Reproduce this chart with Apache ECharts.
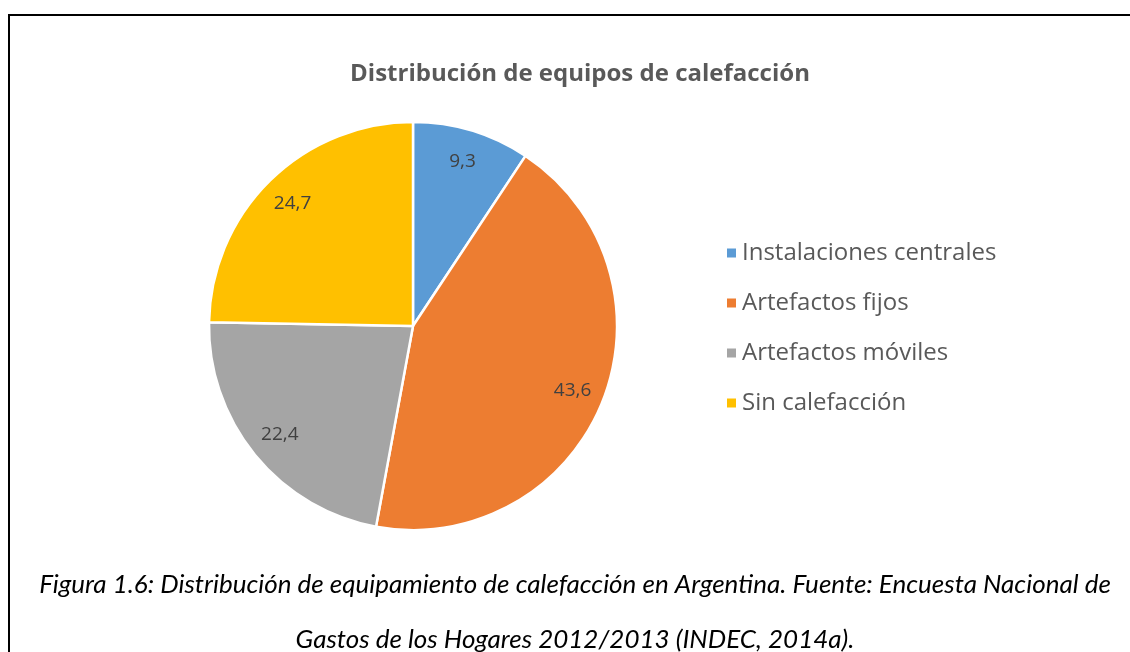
<!DOCTYPE html>
<html><head><meta charset="utf-8">
<script src="https://cdn.jsdelivr.net/npm/echarts@6/dist/echarts.min.js"></script>
<style>html,body{margin:0;padding:0;background:#fff}#c{width:1130px;height:652px}</style>
</head><body><div id="c"></div>
<script>
const categories = ['Instalaciones centrales','Artefactos fijos','Artefactos móviles','Sin calefacción'];
const values = [9.3, 43.6, 22.4, 24.7];
const colors = ['#5B9BD5','#ED7D31','#A5A5A5','#FFC000'];
const titleText = 'Distribución de equipos de calefacción';
const captionLines = ['Figura 1.6: Distribución de equipamiento de calefacción en Argentina. Fuente: Encuesta Nacional de',
                      'Gastos de los Hogares 2012/2013 (INDEC, 2014a).'];

const data = categories.map((n,i)=>({name:n,value:values[i],itemStyle:{color:colors[i]}}));
const chart = echarts.init(document.getElementById('c'));
const center = [413, 326];
chart.setOption({
  animation:false,
  title:{text:titleText,left:575,textAlign:'center',top:57,
    textStyle:{fontFamily:'Open Sans',fontWeight:'bold',fontSize:24,color:'#595959'}},
  legend:{orient:'vertical',left:720,top:236,itemWidth:11,itemHeight:11,itemGap:26,icon:'rect',
    data:categories,
    textStyle:{fontFamily:'Open Sans',fontSize:24,lineHeight:24,color:'#595959'}},
  graphic:[
    {type:'rect',shape:{x:9,y:15,width:1300,height:800},style:{fill:'none',stroke:'#000',lineWidth:2},silent:true},
    {type:'text',style:{x:575,y:585,text:captionLines[0],font:'italic 26px Lato',fill:'#000',align:'center',verticalAlign:'middle'}},
    {type:'text',style:{x:575,y:640,text:captionLines[1],font:'italic 26px Lato',fill:'#000',align:'center',verticalAlign:'middle'}}
  ],
  series:[
    {type:'pie',center:center,radius:204,startAngle:90,clockwise:true,data:data,
     itemStyle:{borderColor:'#fff',borderWidth:2.5},label:{show:false},labelLine:{show:false}},
    {type:'pie',center:center,radius:[134,204],startAngle:90,clockwise:true,silent:true,
     legendHoverLink:false,
     data:categories.map((n,i)=>({name:n+' ',value:values[i]})),
     itemStyle:{color:'rgba(0,0,0,0)'},
     label:{show:true,position:'inside',fontFamily:'Open Sans',fontSize:19,color:'#404040',
       formatter:p=>String(p.value).replace('.',',')},
     labelLine:{show:false}}
  ]
});
</script></body></html>
